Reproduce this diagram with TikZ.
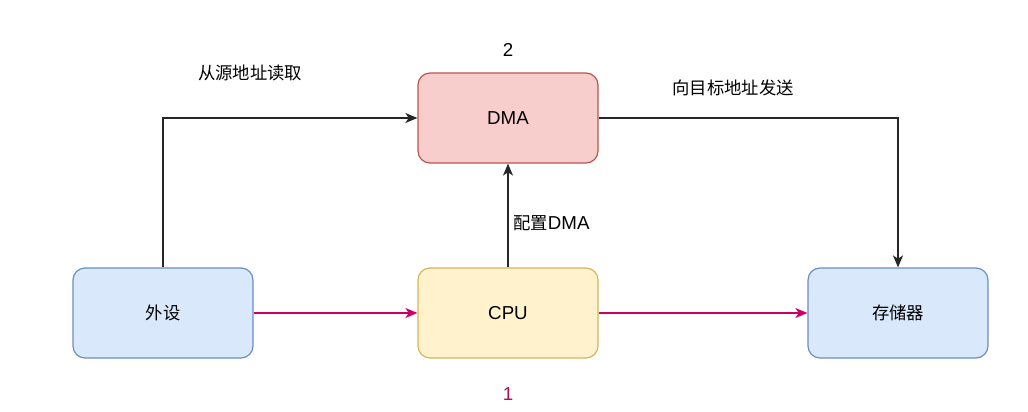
\documentclass[tikz,border=0pt]{standalone}
\usepackage{fontspec}
\setmainfont[Scale=1.08]{Liberation Sans}
\newfontfamily\cjk{Noto Sans CJK SC}
\usetikzlibrary{arrows.meta}
\definecolor{bluefill}{HTML}{DAE8FC}
\definecolor{bluedraw}{HTML}{6C8EBF}
\definecolor{yelfill}{HTML}{FFF2CC}
\definecolor{yeldraw}{HTML}{D6B656}
\definecolor{redfill}{HTML}{F8CECC}
\definecolor{reddraw}{HTML}{B85450}
\definecolor{magenta}{HTML}{CC0066}
\definecolor{onecol}{HTML}{B0104F}
\begin{document}
\begin{tikzpicture}[x=0.75pt,y=-0.75pt,
  box/.style={rounded corners=9pt, minimum width=135pt, minimum height=67.5pt, line width=0.9pt, inner sep=0pt, font=\fontsize{13}{15}\selectfont},
  bluebox/.style={box, draw=bluedraw, fill=bluefill},
  yelbox/.style={box, draw=yeldraw, fill=yelfill},
  redbox/.style={box, draw=reddraw, fill=redfill},
  blackarrow/.style={draw=black!85, line width=1.1pt, -{Stealth[length=9pt,width=7.5pt,inset=2.5pt]}},
  magarrow/.style={draw=magenta, line width=1pt, -{Stealth[length=9pt,width=7.5pt,inset=2.5pt]}},
  lbl/.style={font=\fontsize{13}{15}\selectfont, inner sep=0pt}]
\useasboundingbox (0,0) rectangle (1028,411);
\node[bluebox] (per) at (163,313) {\cjk 外设};
\node[yelbox] (cpu) at (508,313) {CPU};
\node[bluebox] (mem) at (898,313) {\cjk 存储器};
\node[redbox] (dma) at (508,118) {DMA};
\draw[blackarrow] (per.north) |- (dma.west);
\draw[blackarrow] (dma.east) -| (mem.north);
\draw[blackarrow] (cpu.north) -- (dma.south);
\draw[magarrow] (per.east) -- (cpu.west);
\draw[magarrow] (cpu.east) -- (mem.west);
\node[lbl] (l1) at (250,73) {\cjk 从源地址读取};
\node[lbl] (l2) at (733,88) {\cjk 向目标地址发送};
\node[lbl, anchor=west] (l3) at (513,223) {{\cjk 配置}DMA};
\node[lbl] (n2) at (508,50) {2};
\node[lbl, text=onecol] (n1) at (508,394) {1};
\end{tikzpicture}
\end{document}
